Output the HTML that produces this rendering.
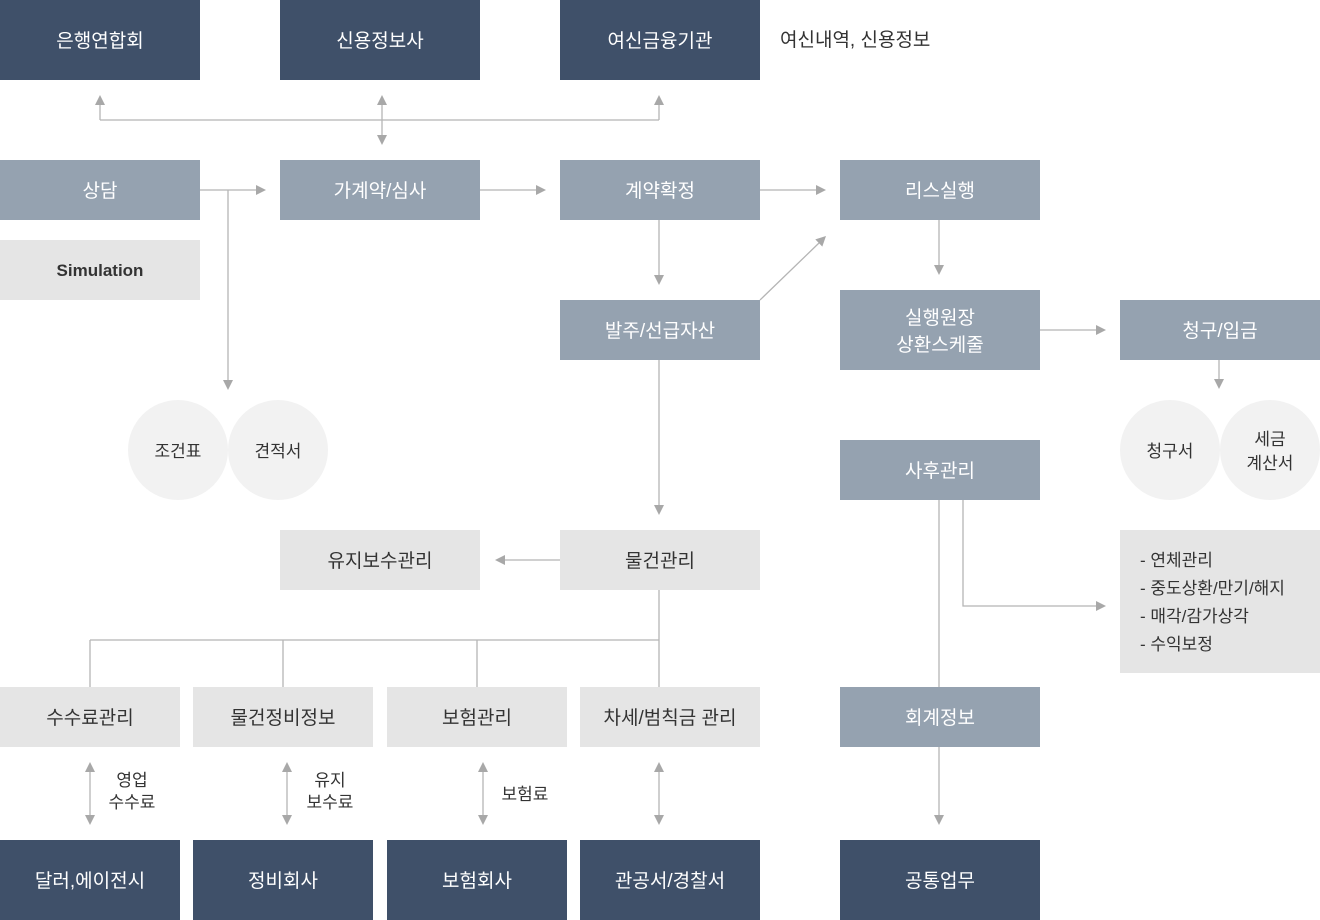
<!DOCTYPE html>
<html><head><meta charset="utf-8">
<style>
html,body{margin:0;padding:0;background:#fff;}
body{width:1320px;height:920px;position:relative;overflow:hidden;font-family:"Liberation Sans","Noto Sans CJK KR",sans-serif;}
.b{position:absolute;display:flex;align-items:center;justify-content:center;text-align:center;font-size:19px;line-height:27px;box-sizing:border-box;padding-top:3px;}
.d{background:#3f5069;color:#fff;}
.g{background:#95a2b0;color:#fff;}
.l{background:#e5e5e5;color:#333;}
.c{position:absolute;width:100px;height:100px;border-radius:50%;background:#f2f2f2;color:#333;display:flex;align-items:center;justify-content:center;text-align:center;font-size:17px;line-height:24px;box-sizing:border-box;padding-top:3px;}
.t{position:absolute;color:#333;font-size:17px;line-height:22px;text-align:center;}
svg{position:absolute;left:0;top:0;}
</style></head><body>
<svg width="1320" height="920" viewBox="0 0 1320 920">
<g stroke="#b5b5b5" stroke-width="1.3" fill="none">
<path d="M100 120V104M659 120V104M100 120H659M382 104V136"/>
<path d="M200 190H257M228 190V381"/>
<path d="M480 190H537M760 190H817"/>
<path d="M659 220V276M760 300L819 243"/>
<path d="M939 220V266M1040 330H1097M1219 360V380"/>
<path d="M659 360V506M560 560H504"/>
<path d="M659 590V687M90 640H659M90 640V687M283 640V687M477 640V687"/>
<path d="M90 771V816M287 771V816M483 771V816M659 771V816"/>
<path d="M939 500V687M963 500V606H1097M939 747V816"/>
</g>
<g fill="#a8a8a8">
<polygon points="100,95 95,105 105,105"/>
<polygon points="659,95 654,105 664,105"/>
<polygon points="382,95 377,105 387,105"/>
<polygon points="382,145 377,135 387,135"/>
<polygon points="266,190 256,185 256,195"/>
<polygon points="228,390 223,380 233,380"/>
<polygon points="546,190 536,185 536,195"/>
<polygon points="826,190 816,185 816,195"/>
<polygon points="659,285 654,275 664,275"/>
<polygon points="826,236 815.3,239.4 822.3,246.6"/>
<polygon points="939,275 934,265 944,265"/>
<polygon points="1106,330 1096,325 1096,335"/>
<polygon points="1219,389 1214,379 1224,379"/>
<polygon points="659,515 654,505 664,505"/>
<polygon points="495,560 505,555 505,565"/>
<polygon points="90,762 85,772 95,772"/><polygon points="90,825 85,815 95,815"/>
<polygon points="287,762 282,772 292,772"/><polygon points="287,825 282,815 292,815"/>
<polygon points="483,762 478,772 488,772"/><polygon points="483,825 478,815 488,815"/>
<polygon points="659,762 654,772 664,772"/><polygon points="659,825 654,815 664,815"/>
<polygon points="1106,606 1096,601 1096,611"/>
<polygon points="939,825 934,815 944,815"/>
</g>
</svg>

<div class="b d" style="left:0;top:0;width:200px;height:80px;">은행연합회</div>
<div class="b d" style="left:280px;top:0;width:200px;height:80px;">신용정보사</div>
<div class="b d" style="left:560px;top:0;width:200px;height:80px;">여신금융기관</div>
<div class="t" style="left:780px;top:29px;font-size:19px;line-height:24px;text-align:left;">여신내역, 신용정보</div>

<div class="b g" style="left:0;top:160px;width:200px;height:60px;">상담</div>
<div class="b g" style="left:280px;top:160px;width:200px;height:60px;">가계약/심사</div>
<div class="b g" style="left:560px;top:160px;width:200px;height:60px;">계약확정</div>
<div class="b g" style="left:840px;top:160px;width:200px;height:60px;">리스실행</div>

<div class="b l" style="left:0;top:240px;width:200px;height:60px;font-size:17px;font-weight:bold;color:#333;padding-top:0;">Simulation</div>

<div class="b g" style="left:560px;top:300px;width:200px;height:60px;">발주/선급자산</div>
<div class="b g" style="left:840px;top:290px;width:200px;height:80px;">실행원장<br>상환스케줄</div>
<div class="b g" style="left:1120px;top:300px;width:200px;height:60px;">청구/입금</div>

<div class="c" style="left:128px;top:400px;">조건표</div>
<div class="c" style="left:228px;top:400px;">견적서</div>
<div class="c" style="left:1120px;top:400px;">청구서</div>
<div class="c" style="left:1220px;top:400px;">세금<br>계산서</div>

<div class="b g" style="left:840px;top:440px;width:200px;height:60px;">사후관리</div>

<div class="b l" style="left:280px;top:530px;width:200px;height:60px;">유지보수관리</div>
<div class="b l" style="left:560px;top:530px;width:200px;height:60px;">물건관리</div>

<div class="l" style="position:absolute;left:1120px;top:530px;width:200px;height:143px;"></div>
<div class="t" style="left:1140px;top:547px;text-align:left;line-height:28px;">- 연체관리<br>- 중도상환/만기/해지<br>- 매각/감가상각<br>- 수익보정</div>

<div class="b l" style="left:0;top:687px;width:180px;height:60px;">수수료관리</div>
<div class="b l" style="left:193px;top:687px;width:180px;height:60px;">물건정비정보</div>
<div class="b l" style="left:387px;top:687px;width:180px;height:60px;">보험관리</div>
<div class="b l" style="left:580px;top:687px;width:180px;height:60px;">차세/범칙금 관리</div>
<div class="b g" style="left:840px;top:687px;width:200px;height:60px;">회계정보</div>

<div class="t" style="left:102px;top:770px;width:60px;">영업<br>수수료</div>
<div class="t" style="left:300px;top:770px;width:60px;">유지<br>보수료</div>
<div class="t" style="left:495px;top:784px;width:60px;">보험료</div>

<div class="b d" style="left:0;top:840px;width:180px;height:80px;">달러,에이전시</div>
<div class="b d" style="left:193px;top:840px;width:180px;height:80px;">정비회사</div>
<div class="b d" style="left:387px;top:840px;width:180px;height:80px;">보험회사</div>
<div class="b d" style="left:580px;top:840px;width:180px;height:80px;">관공서/경찰서</div>
<div class="b d" style="left:840px;top:840px;width:200px;height:80px;">공통업무</div>
</body></html>
